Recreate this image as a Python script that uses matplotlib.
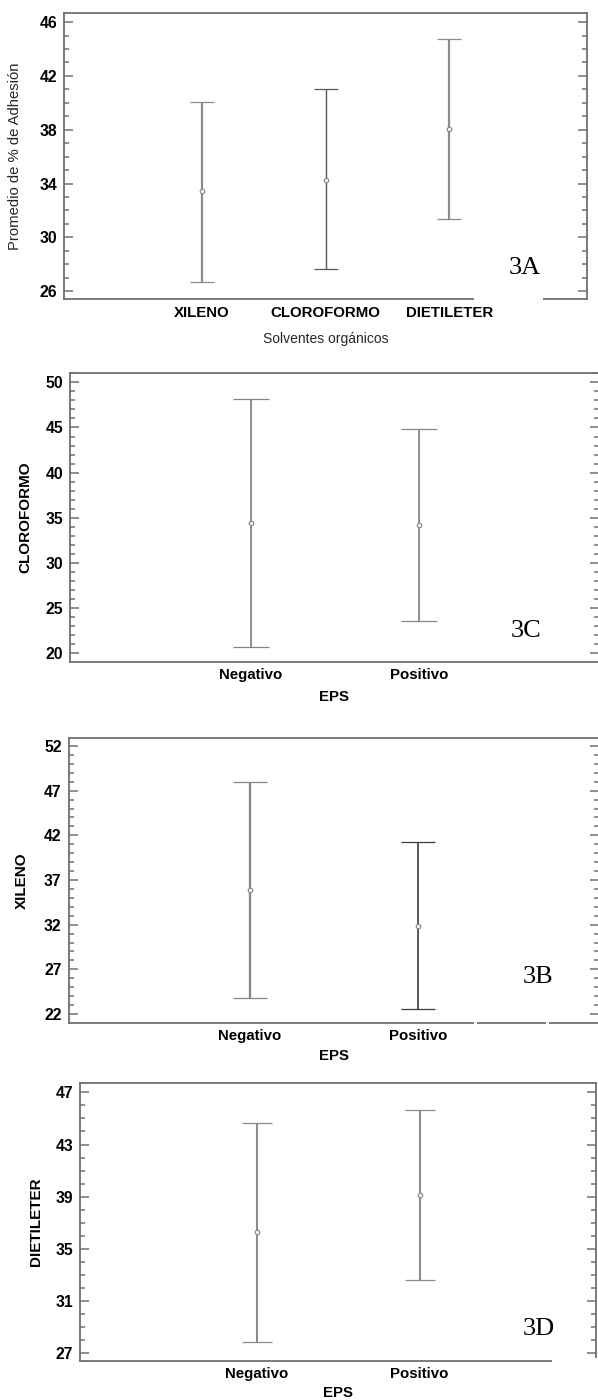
import matplotlib
matplotlib.use("Agg")
import matplotlib.pyplot as plt
from matplotlib.ticker import FixedLocator, MultipleLocator
from matplotlib.patches import Rectangle

# ---------------- data ----------------
solvents = ["XILENO", "CLOROFORMO", "DIETILETER"]
solv_mean = [33.43, 34.30, 38.06]
solv_low = [26.72, 27.64, 31.38]
solv_high = [40.08, 41.03, 44.74]
solv_yticks = [26, 30, 34, 38, 42, 46]

eps_groups = ["Negativo", "Positivo"]

cloro_mean = [34.45, 34.23]
cloro_low = [20.72, 23.57]
cloro_high = [48.18, 44.83]
cloro_yticks = [20, 25, 30, 35, 40, 45, 50]

xileno_mean = [35.84, 31.81]
xileno_low = [23.75, 22.52]
xileno_high = [48.00, 41.25]
xileno_yticks = [22, 27, 32, 37, 42, 47, 52]

dietil_mean = [36.30, 39.15]
dietil_low = [27.87, 32.64]
dietil_high = [44.67, 45.67]
dietil_yticks = [27, 31, 35, 39, 43, 47]

# ---------------- figure ----------------
W, H = 598, 1400
fig = plt.figure(figsize=(W / 100, H / 100), dpi=100)

SANS = ["Liberation Sans", "DejaVu Sans"]
SERIF = ["Liberation Serif", "DejaVu Serif"]
SPINE_C = "#707070"


def px_axes(l, t, r, b):
    return fig.add_axes([l / W, 1 - b / H, (r - l) / W, (b - t) / H])


def style(ax, yticks, ylim, xlim, cats):
    ax.set_ylim(*ylim)
    ax.set_xlim(*xlim)
    ax.yaxis.set_major_locator(FixedLocator(yticks))
    ax.yaxis.set_minor_locator(MultipleLocator(1))
    ax.set_xticks(range(len(cats)))
    ax.set_xticklabels(cats, fontfamily=SANS, fontweight="bold", fontsize=10.8)
    for lab in ax.get_yticklabels():
        lab.set_fontfamily(SANS)
        lab.set_fontweight("bold")
        lab.set_fontsize(11.3)
    ax.tick_params(axis="y", which="both", direction="in", left=True,
                   right=True, colors=SPINE_C, labelcolor="black", width=1.1)
    ax.tick_params(axis="y", which="major", length=6.5, pad=5)
    ax.tick_params(axis="y", which="minor", length=3.4)
    ax.tick_params(axis="x", length=0, pad=4.5, labelcolor="black")
    for sp in ax.spines.values():
        sp.set_color(SPINE_C)
        sp.set_linewidth(1.3)


def draw_bars(ax, means, lows, highs, colors, lws, capsize):
    for i in range(len(means)):
        ax.errorbar([i], [means[i]],
                    yerr=[[means[i] - lows[i]], [highs[i] - means[i]]],
                    fmt="o", color=colors[i], ecolor=colors[i],
                    elinewidth=lws[i], capthick=lws[i], capsize=capsize,
                    markersize=3.2, markerfacecolor="white",
                    markeredgecolor="#8a8a8a", markeredgewidth=0.9)


def gap(ax, x0, x1):
    ax.add_patch(Rectangle((x0, -0.012), x1 - x0, 0.024, transform=ax.transAxes,
                           facecolor="white", edgecolor="none",
                           clip_on=False, zorder=5))


# ---------- Panel 3A ----------
axA = px_axes(64, 13.3, 587.3, 299.3)
draw_bars(axA, solv_mean, solv_low, solv_high,
          ["#8c8c8c", "#5a5a5a", "#8c8c8c"], [1.6, 1.0, 1.6], 8.8)
style(axA, solv_yticks, (25.4, 46.65), (-1.114, 3.114), solvents)
axA.set_ylabel("Promedio de % de Adhesión", fontfamily=SANS, fontsize=10.7,
               color="#262626", va="center")
axA.yaxis.set_label_coords(-0.0936, 0.5)
axA.set_xlabel("Solventes orgánicos", fontfamily=SANS, fontsize=10,
               color="#262626", va="center")
axA.xaxis.set_label_coords(0.5, -0.1388)
gap(axA, 0.7835, 0.9153)
axA.text(0.881, 0.0885, "3A", transform=axA.transAxes, ha="center",
         va="baseline", fontfamily=SERIF, fontsize=19, color="black")

# ---------- Panel 3C ----------
axC = px_axes(70, 373.3, 599, 661.7)
draw_bars(axC, cloro_mean, cloro_low, cloro_high,
          ["#858585", "#858585"], [1.3, 1.3], 12.8)
style(axC, cloro_yticks, (19.07, 51.0), (-1.079, 2.075), eps_groups)
axC.set_ylabel("CLOROFORMO", fontfamily=SANS, fontsize=11, fontweight="bold",
               va="center")
axC.yaxis.set_label_coords(-0.085, 0.5)
axC.set_xlabel("EPS", fontfamily=SANS, fontsize=10.8, fontweight="bold",
               va="center")
axC.xaxis.set_label_coords(0.5, -0.1224)
axC.text(0.8614, 0.0856, "3C", transform=axC.transAxes, ha="center",
         va="baseline", fontfamily=SERIF, fontsize=19, color="black")

# ---------- Panel 3B ----------
axB = px_axes(68.6, 738.3, 599, 1022.7)
draw_bars(axB, xileno_mean, xileno_low, xileno_high,
          ["#858585", "#3c3c3c"], [1.6, 1.2], 12.0)
style(axB, xileno_yticks, (21.03, 52.86), (-1.08, 2.077), eps_groups)
axB.set_ylabel("XILENO", fontfamily=SANS, fontsize=11, fontweight="bold",
               va="center")
axB.yaxis.set_label_coords(-0.0879, 0.5)
axB.set_xlabel("EPS", fontfamily=SANS, fontsize=10.8, fontweight="bold",
               va="center")
axB.xaxis.set_label_coords(0.5, -0.116)
gap(axB, 0.764, 0.7695)
gap(axB, 0.900, 0.9055)
axB.text(0.885, 0.1406, "3B", transform=axB.transAxes, ha="center",
         va="baseline", fontfamily=SERIF, fontsize=19, color="black")

# ---------- Panel 3D ----------
axD = px_axes(80, 1083.3, 596.3, 1361)
draw_bars(axD, dietil_mean, dietil_low, dietil_high,
          ["#8c8c8c", "#8c8c8c"], [1.5, 1.5], 10.8)
style(axD, dietil_yticks, (26.41, 47.69), (-1.082, 2.083), eps_groups)
axD.set_ylabel("DIETILETER", fontfamily=SANS, fontsize=11, fontweight="bold",
               va="center")
axD.yaxis.set_label_coords(-0.0852, 0.5)
axD.set_xlabel("EPS", fontfamily=SANS, fontsize=10.8, fontweight="bold",
               va="center")
axD.xaxis.set_label_coords(0.5, -0.1142)
gap(axD, 0.914, 1.02)
axD.text(0.889, 0.0936, "3D", transform=axD.transAxes, ha="center",
         va="baseline", fontfamily=SERIF, fontsize=19, color="black")

fig.savefig("out.png", dpi=100, facecolor="white")
